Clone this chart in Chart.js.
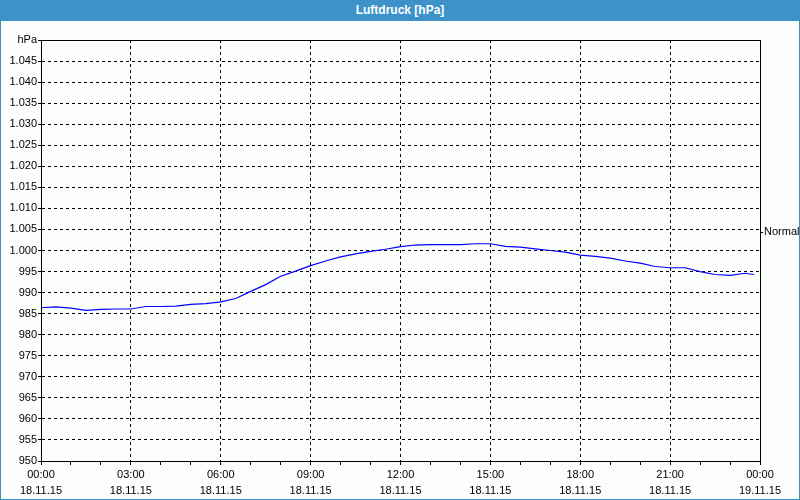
<!DOCTYPE html>
<html>
<head>
<meta charset="utf-8">
<script src="https://cdn.jsdelivr.net/npm/chart.js@4"></script>
<style>
  body { margin: 0; background: #fff; }
  #frame { width: 800px; height: 500px; box-sizing: border-box; border: 1px solid #3c92c9; border-top: 0; background: #fcfefc; }
  #title { height: 21px; background: #3c92c9; color: #fff; font: bold 12px "Liberation Sans", Arial, sans-serif; text-align: center; line-height: 20px; margin: 0 -1px; }
  canvas { display: block; }
</style>
</head>
<body>
<div id="frame">
  <div id="title">Luftdruck [hPa]</div>
  <canvas id="myChart" width="798" height="478"></canvas>
</div>
<script>
// Stunden ab 18.11.15 00:00
const hours = [0, 0.5, 1, 1.5, 2, 2.5, 3, 3.5, 4, 4.5, 5, 5.5, 6, 6.5, 7, 7.5, 8, 8.5, 9, 9.5,
  10, 10.5, 11, 11.5, 12, 12.5, 13, 13.5, 14, 14.5, 15, 15.5, 16, 16.5, 17, 17.5, 18, 18.5, 19, 19.5,
  20, 20.5, 21, 21.5, 22, 22.5, 23, 23.5, 23.8];
// Luftdruck in hPa
const pressure = [986.4, 986.6, 986.3, 985.8, 986.0, 986.1, 986.1, 986.7, 986.7, 986.8, 987.2, 987.4, 987.8, 988.6, 990.3, 991.9, 993.9, 995.1, 996.4, 997.5,
  998.5, 999.2, 999.8, 1000.3, 1000.9, 1001.3, 1001.4, 1001.4, 1001.4, 1001.6, 1001.6, 1001.0, 1000.8, 1000.4, 1000.0, 999.6, 998.9, 998.6, 998.2, 997.5,
  997.0, 996.2, 995.9, 995.9, 995.0, 994.3, 994.1, 994.6, 994.3];
const normalValue = 1004.3;
const timeLabels = ['00:00', '03:00', '06:00', '09:00', '12:00', '15:00', '18:00', '21:00', '00:00'];
const dateLabels = ['18.11.15', '18.11.15', '18.11.15', '18.11.15', '18.11.15', '18.11.15', '18.11.15', '18.11.15', '19.11.15'];

const font = { family: '"Liberation Sans", Arial, sans-serif', size: 11 };

// Rahmen um die Zeichenfläche
const boxPlugin = {
  id: 'box',
  afterDraw(chart) {
    const { ctx, chartArea: a } = chart;
    ctx.save();
    ctx.strokeStyle = '#000';
    ctx.lineWidth = 1;
    ctx.strokeRect(Math.round(a.left) + 0.5, Math.round(a.top) + 0.5, Math.round(a.right - a.left), Math.round(a.bottom - a.top));
    ctx.restore();
  }
};

const ctx = document.getElementById('myChart').getContext('2d');
new Chart(ctx, {
  type: 'line',
  data: {
    datasets: [{
      data: hours.map((h, i) => ({ x: h, y: pressure[i] })),
      borderColor: '#0000ff',
      borderWidth: 1.2,
      pointRadius: 0,
      tension: 0,
      fill: false
    }]
  },
  options: {
    responsive: false,
    animation: false,
    layout: { padding: { top: 19 } },
    plugins: { legend: { display: false }, tooltip: { enabled: false } },
    scales: {
      x: {
        type: 'linear',
        min: 0,
        max: 24,
        afterFit: s => { s.height = 38; },
        ticks: {
          stepSize: 1,
          autoSkip: false,
          maxRotation: 0,
          color: '#000',
          padding: 2,
          font: { ...font, lineHeight: 1.45 },
          callback: v => v % 3 === 0 ? [timeLabels[v / 3], dateLabels[v / 3]] : ''
        },
        grid: {
          color: c => (c.tick && c.tick.value % 3 === 0) ? '#000' : 'transparent',
          tickColor: '#000',
          tickLength: 4
        },
        border: { color: '#000', dash: [3, 3] }
      },
      y: {
        min: 950,
        max: 1050,
        afterFit: s => { s.width = 40; },
        ticks: {
          stepSize: 5,
          color: '#000',
          padding: 1,
          font,
          callback: v => v === 1050 ? 'hPa' : (v >= 1000 ? '1.' + String(v - 1000).padStart(3, '0') : String(v))
        },
        grid: { color: '#000', tickColor: '#000', tickLength: 3 },
        border: { color: '#000', dash: [3, 3] }
      },
      y2: {
        position: 'right',
        min: 950,
        max: 1050,
        afterFit: s => { s.width = 39; },
        afterBuildTicks: s => { s.ticks = [{ value: normalValue }]; },
        ticks: { color: '#000', padding: 1, font, callback: () => 'Normal' },
        grid: { drawOnChartArea: false, tickColor: '#000', tickLength: 3 },
        border: { color: '#000' }
      }
    }
  },
  plugins: [boxPlugin]
});
</script>
</body>
</html>
